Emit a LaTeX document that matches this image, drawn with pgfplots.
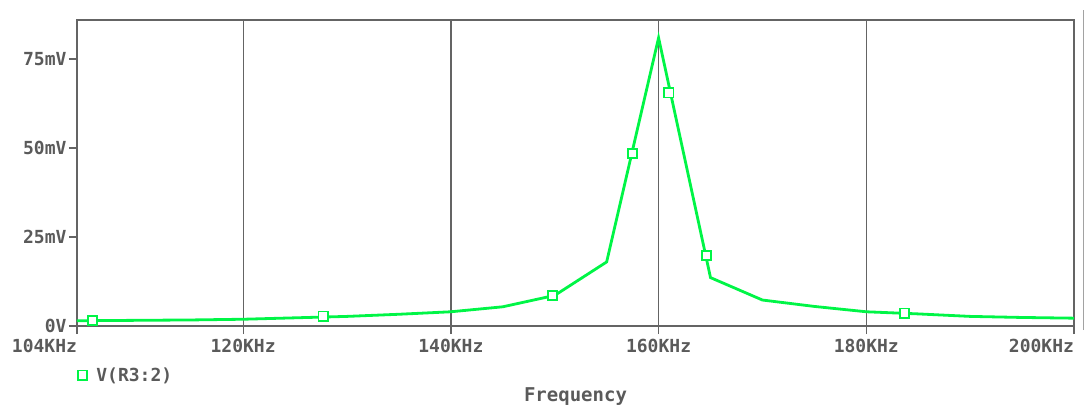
\documentclass[border=0pt]{standalone}
\usepackage{pgfplots}
\pgfplotsset{compat=1.18}
\usepackage{fontspec}
\setmainfont{DejaVu Sans Mono}
\definecolor{trace}{RGB}{0,245,70}
\definecolor{frame}{RGB}{100,100,100}
\definecolor{txt}{RGB}{90,90,90}

\begin{document}
\begin{tikzpicture}[font=\fontsize{18}{20}\selectfont\bfseries]
\useasboundingbox (-77pt,-87pt) rectangle (1007pt,326pt);
\begin{axis}[
    scale only axis,
    width=997pt, height=306pt,
    xmin=104, xmax=200, ymin=0, ymax=86,
    axis line style={frame, line width=1.3pt},
    xtick={104,120,140,160,180,200},
    xticklabels={\makebox[0pt][r]{104KHz},120KHz,140KHz,160KHz,180KHz,\makebox[0pt][r]{200KHz}},
    ytick={0,25,50,75},
    yticklabels={0V,25mV,50mV,75mV},
    tick pos=left,
    tick align=outside,
    major tick length=8pt,
    tick style={frame, line width=1.3pt},
    xmajorgrids,
    grid style={frame, line width=1.3pt},
    tick label style={txt},
    xticklabel style={yshift=-2pt},
    yticklabel style={xshift=1pt},
    xlabel={\fontsize{19}{20}\selectfont Frequency},
    xlabel style={txt, at={(axis description cs:0.5,0)}, anchor=center, yshift=-71pt},
    legend style={at={(axis description cs:0,0)}, anchor=west, yshift=-49pt, xshift=1pt,
        draw=none, fill=none, text=txt, inner sep=0pt,
        /tikz/every odd column/.style={column sep=7pt}},
    legend cell align=left,
]
\addplot[trace, line width=2.8pt, mark=none, forget plot] coordinates {
    (104,1.5) (105,1.5) (110,1.6) (115,1.7) (120,1.9) (125,2.3) (130,2.7)
    (135,3.3) (140,4.0) (145,5.4) (150,8.6) (155,18.0) (160,81.0) (165,13.6)
    (170,7.3) (175,5.5) (180,4.0) (185,3.4) (190,2.7) (195,2.4) (200,2.2)
};
\addplot[only marks, mark=square*, mark size=4.6pt,
    mark options={draw=trace, fill=white, line width=1.8pt}] coordinates {
    (105.5,1.5) (127.7,2.8) (149.8,8.5) (157.5,48.5) (161.0,65.5) (164.6,19.8) (183.7,3.6)
};
\addlegendentry{V(R3:2)}
\end{axis}
\draw[frame!60, line width=1pt] (1006pt,-4pt) -- (1006pt,316pt);
\end{tikzpicture}
\end{document}
